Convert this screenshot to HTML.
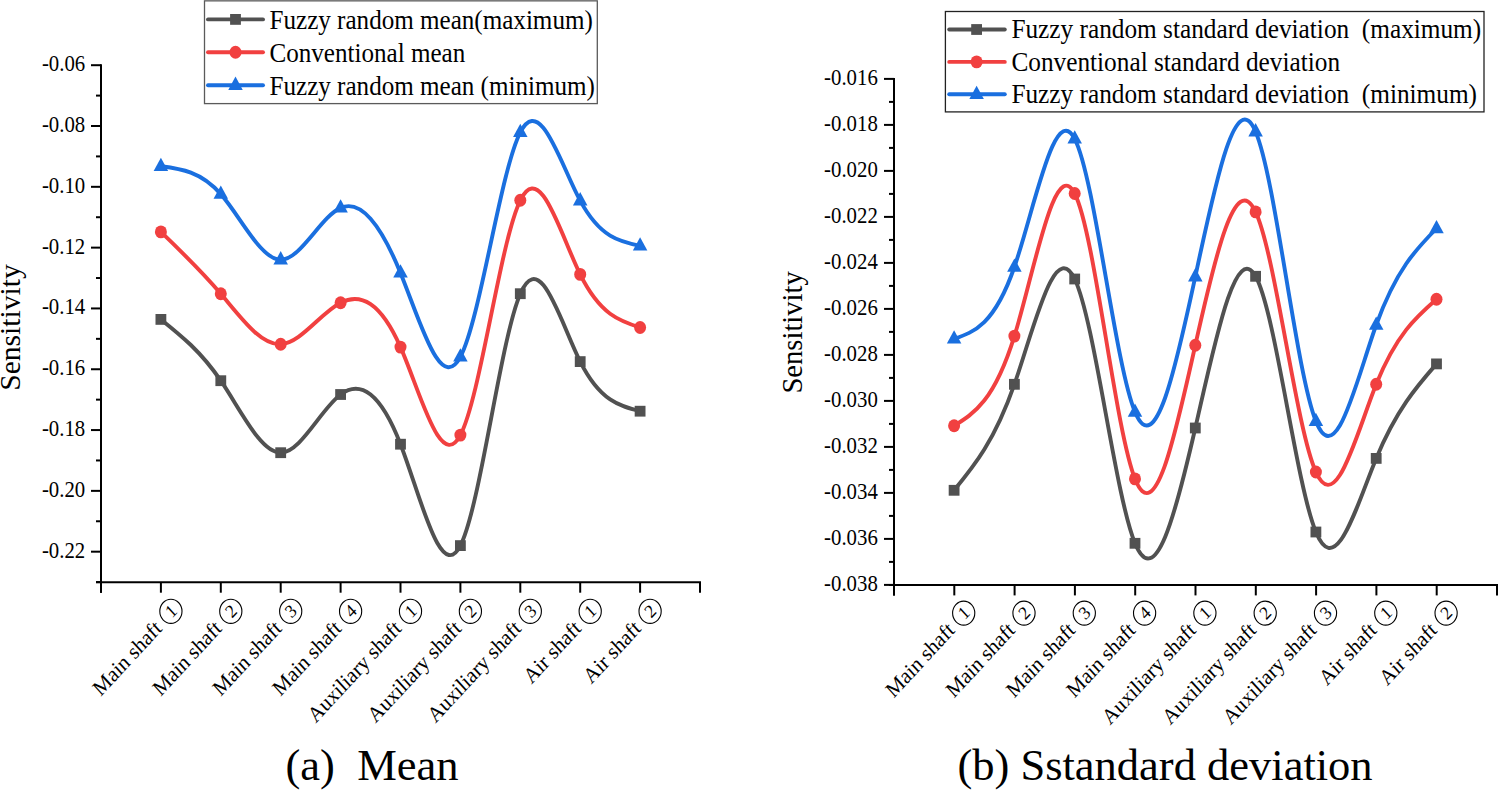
<!DOCTYPE html>
<html><head><meta charset="utf-8"><title>Sensitivity charts</title>
<style>html,body{margin:0;padding:0;background:#fff;}svg{display:block;}text{font-family:"Liberation Serif",serif;}</style></head>
<body><svg width="1498" height="790" viewBox="0 0 1498 790">
<rect width="1498" height="790" fill="#fff"/>
<line x1="101" y1="64.2" x2="101" y2="592.7" stroke="#000" stroke-width="2.0"/><line x1="96" y1="582.2" x2="701" y2="582.2" stroke="#000" stroke-width="2.0"/><line x1="91" y1="65.20" x2="101" y2="65.20" stroke="#000" stroke-width="2.0"/><text transform="translate(85.2,71.20) scale(1,1.06)" text-anchor="end" font-size="20.8" font-family="Liberation Serif">-0.06</text><line x1="91" y1="126.01" x2="101" y2="126.01" stroke="#000" stroke-width="2.0"/><text transform="translate(85.2,132.01) scale(1,1.06)" text-anchor="end" font-size="20.8" font-family="Liberation Serif">-0.08</text><line x1="91" y1="186.82" x2="101" y2="186.82" stroke="#000" stroke-width="2.0"/><text transform="translate(85.2,192.82) scale(1,1.06)" text-anchor="end" font-size="20.8" font-family="Liberation Serif">-0.10</text><line x1="91" y1="247.63" x2="101" y2="247.63" stroke="#000" stroke-width="2.0"/><text transform="translate(85.2,253.63) scale(1,1.06)" text-anchor="end" font-size="20.8" font-family="Liberation Serif">-0.12</text><line x1="91" y1="308.44" x2="101" y2="308.44" stroke="#000" stroke-width="2.0"/><text transform="translate(85.2,314.44) scale(1,1.06)" text-anchor="end" font-size="20.8" font-family="Liberation Serif">-0.14</text><line x1="91" y1="369.25" x2="101" y2="369.25" stroke="#000" stroke-width="2.0"/><text transform="translate(85.2,375.25) scale(1,1.06)" text-anchor="end" font-size="20.8" font-family="Liberation Serif">-0.16</text><line x1="91" y1="430.06" x2="101" y2="430.06" stroke="#000" stroke-width="2.0"/><text transform="translate(85.2,436.06) scale(1,1.06)" text-anchor="end" font-size="20.8" font-family="Liberation Serif">-0.18</text><line x1="91" y1="490.87" x2="101" y2="490.87" stroke="#000" stroke-width="2.0"/><text transform="translate(85.2,496.87) scale(1,1.06)" text-anchor="end" font-size="20.8" font-family="Liberation Serif">-0.20</text><line x1="91" y1="551.68" x2="101" y2="551.68" stroke="#000" stroke-width="2.0"/><text transform="translate(85.2,557.68) scale(1,1.06)" text-anchor="end" font-size="20.8" font-family="Liberation Serif">-0.22</text><line x1="96" y1="95.60" x2="101" y2="95.60" stroke="#000" stroke-width="2.0"/><line x1="96" y1="156.41" x2="101" y2="156.41" stroke="#000" stroke-width="2.0"/><line x1="96" y1="217.22" x2="101" y2="217.22" stroke="#000" stroke-width="2.0"/><line x1="96" y1="278.03" x2="101" y2="278.03" stroke="#000" stroke-width="2.0"/><line x1="96" y1="338.84" x2="101" y2="338.84" stroke="#000" stroke-width="2.0"/><line x1="96" y1="399.65" x2="101" y2="399.65" stroke="#000" stroke-width="2.0"/><line x1="96" y1="460.46" x2="101" y2="460.46" stroke="#000" stroke-width="2.0"/><line x1="96" y1="521.27" x2="101" y2="521.27" stroke="#000" stroke-width="2.0"/><line x1="96" y1="582.08" x2="101" y2="582.08" stroke="#000" stroke-width="2.0"/><line x1="101.00" y1="582.2" x2="101.00" y2="592.7" stroke="#000" stroke-width="2.0"/><line x1="160.90" y1="582.2" x2="160.90" y2="592.7" stroke="#000" stroke-width="2.0"/><line x1="220.80" y1="582.2" x2="220.80" y2="592.7" stroke="#000" stroke-width="2.0"/><line x1="280.70" y1="582.2" x2="280.70" y2="592.7" stroke="#000" stroke-width="2.0"/><line x1="340.60" y1="582.2" x2="340.60" y2="592.7" stroke="#000" stroke-width="2.0"/><line x1="400.50" y1="582.2" x2="400.50" y2="592.7" stroke="#000" stroke-width="2.0"/><line x1="460.40" y1="582.2" x2="460.40" y2="592.7" stroke="#000" stroke-width="2.0"/><line x1="520.30" y1="582.2" x2="520.30" y2="592.7" stroke="#000" stroke-width="2.0"/><line x1="580.20" y1="582.2" x2="580.20" y2="592.7" stroke="#000" stroke-width="2.0"/><line x1="640.10" y1="582.2" x2="640.10" y2="592.7" stroke="#000" stroke-width="2.0"/><line x1="700.00" y1="582.2" x2="700.00" y2="592.7" stroke="#000" stroke-width="2.0"/><g transform="translate(170.90,611.30) scale(1,1.085) rotate(-45)"><circle r="11.1" fill="none" stroke="#000" stroke-width="1.1"/><text x="0.3" y="5.6" text-anchor="middle" font-size="17.2" font-family="Liberation Serif">1</text><text x="-17.6" y="6.3" text-anchor="end" font-size="20.4" font-family="Liberation Serif">Main shaft</text></g><g transform="translate(230.80,611.30) scale(1,1.085) rotate(-45)"><circle r="11.1" fill="none" stroke="#000" stroke-width="1.1"/><text x="0.3" y="5.6" text-anchor="middle" font-size="17.2" font-family="Liberation Serif">2</text><text x="-17.6" y="6.3" text-anchor="end" font-size="20.4" font-family="Liberation Serif">Main shaft</text></g><g transform="translate(290.70,611.30) scale(1,1.085) rotate(-45)"><circle r="11.1" fill="none" stroke="#000" stroke-width="1.1"/><text x="0.3" y="5.6" text-anchor="middle" font-size="17.2" font-family="Liberation Serif">3</text><text x="-17.6" y="6.3" text-anchor="end" font-size="20.4" font-family="Liberation Serif">Main shaft</text></g><g transform="translate(350.60,611.30) scale(1,1.085) rotate(-45)"><circle r="11.1" fill="none" stroke="#000" stroke-width="1.1"/><text x="0.3" y="5.6" text-anchor="middle" font-size="17.2" font-family="Liberation Serif">4</text><text x="-17.6" y="6.3" text-anchor="end" font-size="20.4" font-family="Liberation Serif">Main shaft</text></g><g transform="translate(410.50,611.30) scale(1,1.085) rotate(-45)"><circle r="11.1" fill="none" stroke="#000" stroke-width="1.1"/><text x="0.3" y="5.6" text-anchor="middle" font-size="17.2" font-family="Liberation Serif">1</text><text x="-17.6" y="6.3" text-anchor="end" font-size="20.4" font-family="Liberation Serif">Auxiliary shaft</text></g><g transform="translate(470.40,611.30) scale(1,1.085) rotate(-45)"><circle r="11.1" fill="none" stroke="#000" stroke-width="1.1"/><text x="0.3" y="5.6" text-anchor="middle" font-size="17.2" font-family="Liberation Serif">2</text><text x="-17.6" y="6.3" text-anchor="end" font-size="20.4" font-family="Liberation Serif">Auxiliary shaft</text></g><g transform="translate(530.30,611.30) scale(1,1.085) rotate(-45)"><circle r="11.1" fill="none" stroke="#000" stroke-width="1.1"/><text x="0.3" y="5.6" text-anchor="middle" font-size="17.2" font-family="Liberation Serif">3</text><text x="-17.6" y="6.3" text-anchor="end" font-size="20.4" font-family="Liberation Serif">Auxiliary shaft</text></g><g transform="translate(590.20,611.30) scale(1,1.085) rotate(-45)"><circle r="11.1" fill="none" stroke="#000" stroke-width="1.1"/><text x="0.3" y="5.6" text-anchor="middle" font-size="17.2" font-family="Liberation Serif">1</text><text x="-17.6" y="6.3" text-anchor="end" font-size="20.4" font-family="Liberation Serif">Air shaft</text></g><g transform="translate(650.10,611.30) scale(1,1.085) rotate(-45)"><circle r="11.1" fill="none" stroke="#000" stroke-width="1.1"/><text x="0.3" y="5.6" text-anchor="middle" font-size="17.2" font-family="Liberation Serif">2</text><text x="-17.6" y="6.3" text-anchor="end" font-size="20.4" font-family="Liberation Serif">Air shaft</text></g><path d="M160.90,319.40C180.87,335.36 200.83,351.32 220.80,380.70C240.77,410.08 260.73,452.87 280.70,452.70C300.67,452.53 320.63,409.39 340.60,394.50C360.57,379.61 380.53,392.98 400.50,444.20C420.47,495.42 440.43,584.48 460.40,545.60C480.37,506.72 500.33,339.90 520.30,293.70C540.27,247.50 560.23,321.91 580.20,361.60C600.17,401.29 620.13,406.24 640.10,411.20" fill="none" stroke="#515151" stroke-width="3.9" stroke-linecap="round" stroke-linejoin="round"/><rect x="155.50" y="314.00" width="10.8" height="10.8" fill="#515151"/><rect x="215.40" y="375.30" width="10.8" height="10.8" fill="#515151"/><rect x="275.30" y="447.30" width="10.8" height="10.8" fill="#515151"/><rect x="335.20" y="389.10" width="10.8" height="10.8" fill="#515151"/><rect x="395.10" y="438.80" width="10.8" height="10.8" fill="#515151"/><rect x="455.00" y="540.20" width="10.8" height="10.8" fill="#515151"/><rect x="514.90" y="288.30" width="10.8" height="10.8" fill="#515151"/><rect x="574.80" y="356.20" width="10.8" height="10.8" fill="#515151"/><rect x="634.70" y="405.80" width="10.8" height="10.8" fill="#515151"/><path d="M160.90,231.90C180.87,251.07 200.83,270.24 220.80,293.80C240.77,317.36 260.73,345.29 280.70,344.20C300.67,343.11 320.63,312.98 340.60,302.70C360.57,292.42 380.53,301.99 400.50,347.10C420.47,392.21 440.43,472.87 460.40,435.10C480.37,397.33 500.33,241.14 520.30,200.30C540.27,159.46 560.23,233.97 580.20,274.40C600.17,314.83 620.13,321.16 640.10,327.50" fill="none" stroke="#F14040" stroke-width="3.9" stroke-linecap="round" stroke-linejoin="round"/><ellipse cx="160.90" cy="231.90" rx="6.0" ry="6.45" fill="#F14040"/><ellipse cx="220.80" cy="293.80" rx="6.0" ry="6.45" fill="#F14040"/><ellipse cx="280.70" cy="344.20" rx="6.0" ry="6.45" fill="#F14040"/><ellipse cx="340.60" cy="302.70" rx="6.0" ry="6.45" fill="#F14040"/><ellipse cx="400.50" cy="347.10" rx="6.0" ry="6.45" fill="#F14040"/><ellipse cx="460.40" cy="435.10" rx="6.0" ry="6.45" fill="#F14040"/><ellipse cx="520.30" cy="200.30" rx="6.0" ry="6.45" fill="#F14040"/><ellipse cx="580.20" cy="274.40" rx="6.0" ry="6.45" fill="#F14040"/><ellipse cx="640.10" cy="327.50" rx="6.0" ry="6.45" fill="#F14040"/><path d="M160.90,166.30C180.87,168.84 200.83,171.39 220.80,194.10C240.77,216.81 260.73,259.70 280.70,259.70C300.67,259.70 320.63,216.82 340.60,207.90C360.57,198.98 380.53,224.02 400.50,272.90C420.47,321.78 440.43,394.52 460.40,356.90C480.37,319.28 500.33,171.32 520.30,132.40C540.27,93.48 560.23,163.61 580.20,200.70C600.17,237.79 620.13,241.85 640.10,245.90" fill="none" stroke="#1A6FDF" stroke-width="3.9" stroke-linecap="round" stroke-linejoin="round"/><path d="M160.90,157.70L168.15,171.00L153.65,171.00Z" fill="#1A6FDF"/><path d="M220.80,185.50L228.05,198.80L213.55,198.80Z" fill="#1A6FDF"/><path d="M280.70,251.10L287.95,264.40L273.45,264.40Z" fill="#1A6FDF"/><path d="M340.60,199.30L347.85,212.60L333.35,212.60Z" fill="#1A6FDF"/><path d="M400.50,264.30L407.75,277.60L393.25,277.60Z" fill="#1A6FDF"/><path d="M460.40,348.30L467.65,361.60L453.15,361.60Z" fill="#1A6FDF"/><path d="M520.30,123.80L527.55,137.10L513.05,137.10Z" fill="#1A6FDF"/><path d="M580.20,192.10L587.45,205.40L572.95,205.40Z" fill="#1A6FDF"/><path d="M640.10,237.30L647.35,250.60L632.85,250.60Z" fill="#1A6FDF"/><rect x="204.5" y="0.85" width="392.79999999999995" height="102.75" fill="#fff" stroke="#5a5a5a" stroke-width="1.3"/><line x1="208" y1="19.40" x2="263" y2="19.40" stroke="#515151" stroke-width="3.9" stroke-linecap="round"/><rect x="230.10" y="14.00" width="10.8" height="10.8" fill="#515151"/><text transform="translate(269.5,28.90) scale(1,1.07)" font-size="25.1" font-family="Liberation Serif" xml:space="preserve">Fuzzy random mean(maximum)</text><line x1="208" y1="52.30" x2="263" y2="52.30" stroke="#F14040" stroke-width="3.9" stroke-linecap="round"/><ellipse cx="235.50" cy="52.30" rx="6.0" ry="6.45" fill="#F14040"/><text transform="translate(269.5,61.80) scale(1,1.07)" font-size="25.1" font-family="Liberation Serif" xml:space="preserve">Conventional mean</text><line x1="208" y1="85.20" x2="263" y2="85.20" stroke="#1A6FDF" stroke-width="3.9" stroke-linecap="round"/><path d="M235.50,76.60L242.75,89.90L228.25,89.90Z" fill="#1A6FDF"/><text transform="translate(269.5,94.70) scale(1,1.07)" font-size="25.1" font-family="Liberation Serif" xml:space="preserve">Fuzzy random mean (minimum)</text><text transform="translate(19.7,327.5) rotate(-90) scale(1.026,1)" text-anchor="middle" font-size="28.8" font-family="Liberation Serif">Sensitivity</text><text x="372" y="780" text-anchor="middle" font-size="44.5" font-family="Liberation Serif" xml:space="preserve">(a)  Mean</text><line x1="894" y1="77.9" x2="894" y2="595.4" stroke="#000" stroke-width="2.0"/><line x1="889" y1="584.9" x2="1498" y2="584.9" stroke="#000" stroke-width="2.0"/><line x1="884" y1="78.90" x2="894" y2="78.90" stroke="#000" stroke-width="2.0"/><text transform="translate(877.8,84.90) scale(1,1.06)" text-anchor="end" font-size="20.8" font-family="Liberation Serif">-0.016</text><line x1="884" y1="124.90" x2="894" y2="124.90" stroke="#000" stroke-width="2.0"/><text transform="translate(877.8,130.90) scale(1,1.06)" text-anchor="end" font-size="20.8" font-family="Liberation Serif">-0.018</text><line x1="884" y1="170.90" x2="894" y2="170.90" stroke="#000" stroke-width="2.0"/><text transform="translate(877.8,176.90) scale(1,1.06)" text-anchor="end" font-size="20.8" font-family="Liberation Serif">-0.020</text><line x1="884" y1="216.90" x2="894" y2="216.90" stroke="#000" stroke-width="2.0"/><text transform="translate(877.8,222.90) scale(1,1.06)" text-anchor="end" font-size="20.8" font-family="Liberation Serif">-0.022</text><line x1="884" y1="262.90" x2="894" y2="262.90" stroke="#000" stroke-width="2.0"/><text transform="translate(877.8,268.90) scale(1,1.06)" text-anchor="end" font-size="20.8" font-family="Liberation Serif">-0.024</text><line x1="884" y1="308.90" x2="894" y2="308.90" stroke="#000" stroke-width="2.0"/><text transform="translate(877.8,314.90) scale(1,1.06)" text-anchor="end" font-size="20.8" font-family="Liberation Serif">-0.026</text><line x1="884" y1="354.90" x2="894" y2="354.90" stroke="#000" stroke-width="2.0"/><text transform="translate(877.8,360.90) scale(1,1.06)" text-anchor="end" font-size="20.8" font-family="Liberation Serif">-0.028</text><line x1="884" y1="400.90" x2="894" y2="400.90" stroke="#000" stroke-width="2.0"/><text transform="translate(877.8,406.90) scale(1,1.06)" text-anchor="end" font-size="20.8" font-family="Liberation Serif">-0.030</text><line x1="884" y1="446.90" x2="894" y2="446.90" stroke="#000" stroke-width="2.0"/><text transform="translate(877.8,452.90) scale(1,1.06)" text-anchor="end" font-size="20.8" font-family="Liberation Serif">-0.032</text><line x1="884" y1="492.90" x2="894" y2="492.90" stroke="#000" stroke-width="2.0"/><text transform="translate(877.8,498.90) scale(1,1.06)" text-anchor="end" font-size="20.8" font-family="Liberation Serif">-0.034</text><line x1="884" y1="538.90" x2="894" y2="538.90" stroke="#000" stroke-width="2.0"/><text transform="translate(877.8,544.90) scale(1,1.06)" text-anchor="end" font-size="20.8" font-family="Liberation Serif">-0.036</text><line x1="884" y1="584.90" x2="894" y2="584.90" stroke="#000" stroke-width="2.0"/><text transform="translate(877.8,590.90) scale(1,1.06)" text-anchor="end" font-size="20.8" font-family="Liberation Serif">-0.038</text><line x1="889" y1="101.90" x2="894" y2="101.90" stroke="#000" stroke-width="2.0"/><line x1="889" y1="147.90" x2="894" y2="147.90" stroke="#000" stroke-width="2.0"/><line x1="889" y1="193.90" x2="894" y2="193.90" stroke="#000" stroke-width="2.0"/><line x1="889" y1="239.90" x2="894" y2="239.90" stroke="#000" stroke-width="2.0"/><line x1="889" y1="285.90" x2="894" y2="285.90" stroke="#000" stroke-width="2.0"/><line x1="889" y1="331.90" x2="894" y2="331.90" stroke="#000" stroke-width="2.0"/><line x1="889" y1="377.90" x2="894" y2="377.90" stroke="#000" stroke-width="2.0"/><line x1="889" y1="423.90" x2="894" y2="423.90" stroke="#000" stroke-width="2.0"/><line x1="889" y1="469.90" x2="894" y2="469.90" stroke="#000" stroke-width="2.0"/><line x1="889" y1="515.90" x2="894" y2="515.90" stroke="#000" stroke-width="2.0"/><line x1="889" y1="561.90" x2="894" y2="561.90" stroke="#000" stroke-width="2.0"/><line x1="894.00" y1="584.9" x2="894.00" y2="595.4" stroke="#000" stroke-width="2.0"/><line x1="954.30" y1="584.9" x2="954.30" y2="595.4" stroke="#000" stroke-width="2.0"/><line x1="1014.60" y1="584.9" x2="1014.60" y2="595.4" stroke="#000" stroke-width="2.0"/><line x1="1074.90" y1="584.9" x2="1074.90" y2="595.4" stroke="#000" stroke-width="2.0"/><line x1="1135.20" y1="584.9" x2="1135.20" y2="595.4" stroke="#000" stroke-width="2.0"/><line x1="1195.50" y1="584.9" x2="1195.50" y2="595.4" stroke="#000" stroke-width="2.0"/><line x1="1255.80" y1="584.9" x2="1255.80" y2="595.4" stroke="#000" stroke-width="2.0"/><line x1="1316.10" y1="584.9" x2="1316.10" y2="595.4" stroke="#000" stroke-width="2.0"/><line x1="1376.40" y1="584.9" x2="1376.40" y2="595.4" stroke="#000" stroke-width="2.0"/><line x1="1436.70" y1="584.9" x2="1436.70" y2="595.4" stroke="#000" stroke-width="2.0"/><line x1="1497.00" y1="584.9" x2="1497.00" y2="595.4" stroke="#000" stroke-width="2.0"/><g transform="translate(963.70,613.10) scale(1,1.085) rotate(-45)"><circle r="11.1" fill="none" stroke="#000" stroke-width="1.1"/><text x="0.3" y="5.6" text-anchor="middle" font-size="17.2" font-family="Liberation Serif">1</text><text x="-17.6" y="6.3" text-anchor="end" font-size="20.4" font-family="Liberation Serif">Main shaft</text></g><g transform="translate(1024.00,613.10) scale(1,1.085) rotate(-45)"><circle r="11.1" fill="none" stroke="#000" stroke-width="1.1"/><text x="0.3" y="5.6" text-anchor="middle" font-size="17.2" font-family="Liberation Serif">2</text><text x="-17.6" y="6.3" text-anchor="end" font-size="20.4" font-family="Liberation Serif">Main shaft</text></g><g transform="translate(1084.30,613.10) scale(1,1.085) rotate(-45)"><circle r="11.1" fill="none" stroke="#000" stroke-width="1.1"/><text x="0.3" y="5.6" text-anchor="middle" font-size="17.2" font-family="Liberation Serif">3</text><text x="-17.6" y="6.3" text-anchor="end" font-size="20.4" font-family="Liberation Serif">Main shaft</text></g><g transform="translate(1144.60,613.10) scale(1,1.085) rotate(-45)"><circle r="11.1" fill="none" stroke="#000" stroke-width="1.1"/><text x="0.3" y="5.6" text-anchor="middle" font-size="17.2" font-family="Liberation Serif">4</text><text x="-17.6" y="6.3" text-anchor="end" font-size="20.4" font-family="Liberation Serif">Main shaft</text></g><g transform="translate(1204.90,613.10) scale(1,1.085) rotate(-45)"><circle r="11.1" fill="none" stroke="#000" stroke-width="1.1"/><text x="0.3" y="5.6" text-anchor="middle" font-size="17.2" font-family="Liberation Serif">1</text><text x="-17.6" y="6.3" text-anchor="end" font-size="20.4" font-family="Liberation Serif">Auxiliary shaft</text></g><g transform="translate(1265.20,613.10) scale(1,1.085) rotate(-45)"><circle r="11.1" fill="none" stroke="#000" stroke-width="1.1"/><text x="0.3" y="5.6" text-anchor="middle" font-size="17.2" font-family="Liberation Serif">2</text><text x="-17.6" y="6.3" text-anchor="end" font-size="20.4" font-family="Liberation Serif">Auxiliary shaft</text></g><g transform="translate(1325.50,613.10) scale(1,1.085) rotate(-45)"><circle r="11.1" fill="none" stroke="#000" stroke-width="1.1"/><text x="0.3" y="5.6" text-anchor="middle" font-size="17.2" font-family="Liberation Serif">3</text><text x="-17.6" y="6.3" text-anchor="end" font-size="20.4" font-family="Liberation Serif">Auxiliary shaft</text></g><g transform="translate(1385.80,613.10) scale(1,1.085) rotate(-45)"><circle r="11.1" fill="none" stroke="#000" stroke-width="1.1"/><text x="0.3" y="5.6" text-anchor="middle" font-size="17.2" font-family="Liberation Serif">1</text><text x="-17.6" y="6.3" text-anchor="end" font-size="20.4" font-family="Liberation Serif">Air shaft</text></g><g transform="translate(1446.10,613.10) scale(1,1.085) rotate(-45)"><circle r="11.1" fill="none" stroke="#000" stroke-width="1.1"/><text x="0.3" y="5.6" text-anchor="middle" font-size="17.2" font-family="Liberation Serif">2</text><text x="-17.6" y="6.3" text-anchor="end" font-size="20.4" font-family="Liberation Serif">Air shaft</text></g><path d="M954.10,490.30C974.20,465.89 994.30,441.49 1014.40,384.30C1034.50,327.11 1054.60,237.14 1074.70,279.00C1094.80,320.86 1114.90,494.54 1135.00,543.30C1155.10,592.06 1175.20,515.89 1195.30,428.00C1215.40,340.11 1235.50,240.50 1255.60,276.30C1275.70,312.10 1295.80,483.32 1315.90,532.00C1336.00,580.68 1356.10,506.84 1376.20,458.40C1396.30,409.96 1416.40,386.93 1436.50,363.90" fill="none" stroke="#515151" stroke-width="3.9" stroke-linecap="round" stroke-linejoin="round"/><rect x="948.70" y="484.90" width="10.8" height="10.8" fill="#515151"/><rect x="1009.00" y="378.90" width="10.8" height="10.8" fill="#515151"/><rect x="1069.30" y="273.60" width="10.8" height="10.8" fill="#515151"/><rect x="1129.60" y="537.90" width="10.8" height="10.8" fill="#515151"/><rect x="1189.90" y="422.60" width="10.8" height="10.8" fill="#515151"/><rect x="1250.20" y="270.90" width="10.8" height="10.8" fill="#515151"/><rect x="1310.50" y="526.60" width="10.8" height="10.8" fill="#515151"/><rect x="1370.80" y="453.00" width="10.8" height="10.8" fill="#515151"/><rect x="1431.10" y="358.50" width="10.8" height="10.8" fill="#515151"/><path d="M954.10,425.80C974.20,413.33 994.30,400.86 1014.40,336.10C1034.50,271.34 1054.60,154.27 1074.70,193.50C1094.80,232.73 1114.90,428.24 1135.00,478.90C1155.10,529.56 1175.20,435.37 1195.30,345.20C1215.40,255.03 1235.50,168.87 1255.60,211.90C1275.70,254.93 1295.80,427.15 1315.90,472.00C1336.00,516.85 1356.10,434.33 1376.20,384.30C1396.30,334.27 1416.40,316.74 1436.50,299.20" fill="none" stroke="#F14040" stroke-width="3.9" stroke-linecap="round" stroke-linejoin="round"/><ellipse cx="954.10" cy="425.80" rx="6.0" ry="6.45" fill="#F14040"/><ellipse cx="1014.40" cy="336.10" rx="6.0" ry="6.45" fill="#F14040"/><ellipse cx="1074.70" cy="193.50" rx="6.0" ry="6.45" fill="#F14040"/><ellipse cx="1135.00" cy="478.90" rx="6.0" ry="6.45" fill="#F14040"/><ellipse cx="1195.30" cy="345.20" rx="6.0" ry="6.45" fill="#F14040"/><ellipse cx="1255.60" cy="211.90" rx="6.0" ry="6.45" fill="#F14040"/><ellipse cx="1315.90" cy="472.00" rx="6.0" ry="6.45" fill="#F14040"/><ellipse cx="1376.20" cy="384.30" rx="6.0" ry="6.45" fill="#F14040"/><ellipse cx="1436.50" cy="299.20" rx="6.0" ry="6.45" fill="#F14040"/><path d="M954.10,338.90C974.20,331.93 994.30,324.96 1014.40,267.00C1034.50,209.04 1054.60,100.11 1074.70,138.80C1094.80,177.49 1114.90,363.82 1135.00,412.10C1155.10,460.38 1175.20,370.62 1195.30,276.70C1215.40,182.78 1235.50,84.70 1255.60,131.70C1275.70,178.70 1295.80,370.79 1315.90,421.30C1336.00,471.81 1356.10,380.73 1376.20,325.00C1396.30,269.27 1416.40,248.88 1436.50,228.50" fill="none" stroke="#1A6FDF" stroke-width="3.9" stroke-linecap="round" stroke-linejoin="round"/><path d="M954.10,330.30L961.35,343.60L946.85,343.60Z" fill="#1A6FDF"/><path d="M1014.40,258.40L1021.65,271.70L1007.15,271.70Z" fill="#1A6FDF"/><path d="M1074.70,130.20L1081.95,143.50L1067.45,143.50Z" fill="#1A6FDF"/><path d="M1135.00,403.50L1142.25,416.80L1127.75,416.80Z" fill="#1A6FDF"/><path d="M1195.30,268.10L1202.55,281.40L1188.05,281.40Z" fill="#1A6FDF"/><path d="M1255.60,123.10L1262.85,136.40L1248.35,136.40Z" fill="#1A6FDF"/><path d="M1315.90,412.70L1323.15,426.00L1308.65,426.00Z" fill="#1A6FDF"/><path d="M1376.20,316.40L1383.45,329.70L1368.95,329.70Z" fill="#1A6FDF"/><path d="M1436.50,219.90L1443.75,233.20L1429.25,233.20Z" fill="#1A6FDF"/><rect x="945.4" y="11.5" width="538.6" height="100.4" fill="#fff" stroke="#222" stroke-width="1.3"/><line x1="949.2" y1="29.50" x2="1004.8" y2="29.50" stroke="#515151" stroke-width="3.9" stroke-linecap="round"/><rect x="971.20" y="24.10" width="10.8" height="10.8" fill="#515151"/><text transform="translate(1011.4,38.10) scale(1,1.07)" font-size="25.3" font-family="Liberation Serif" xml:space="preserve">Fuzzy random standard deviation  (maximum)</text><line x1="949.2" y1="61.90" x2="1004.8" y2="61.90" stroke="#F14040" stroke-width="3.9" stroke-linecap="round"/><ellipse cx="976.60" cy="61.90" rx="6.0" ry="6.45" fill="#F14040"/><text transform="translate(1011.4,70.50) scale(1,1.07)" font-size="25.3" font-family="Liberation Serif" xml:space="preserve">Conventional standard deviation</text><line x1="949.2" y1="94.30" x2="1004.8" y2="94.30" stroke="#1A6FDF" stroke-width="3.9" stroke-linecap="round"/><path d="M976.60,85.70L983.85,99.00L969.35,99.00Z" fill="#1A6FDF"/><text transform="translate(1011.4,102.90) scale(1,1.07)" font-size="25.3" font-family="Liberation Serif" xml:space="preserve">Fuzzy random standard deviation  (minimum)</text><text transform="translate(801.8,332.4) rotate(-90) scale(0.994,1)" text-anchor="middle" font-size="28.8" font-family="Liberation Serif">Sensitivity</text><text x="1165" y="780" text-anchor="middle" font-size="44.5" font-family="Liberation Serif" xml:space="preserve">(b) Sstandard deviation</text>
</svg></body></html>
